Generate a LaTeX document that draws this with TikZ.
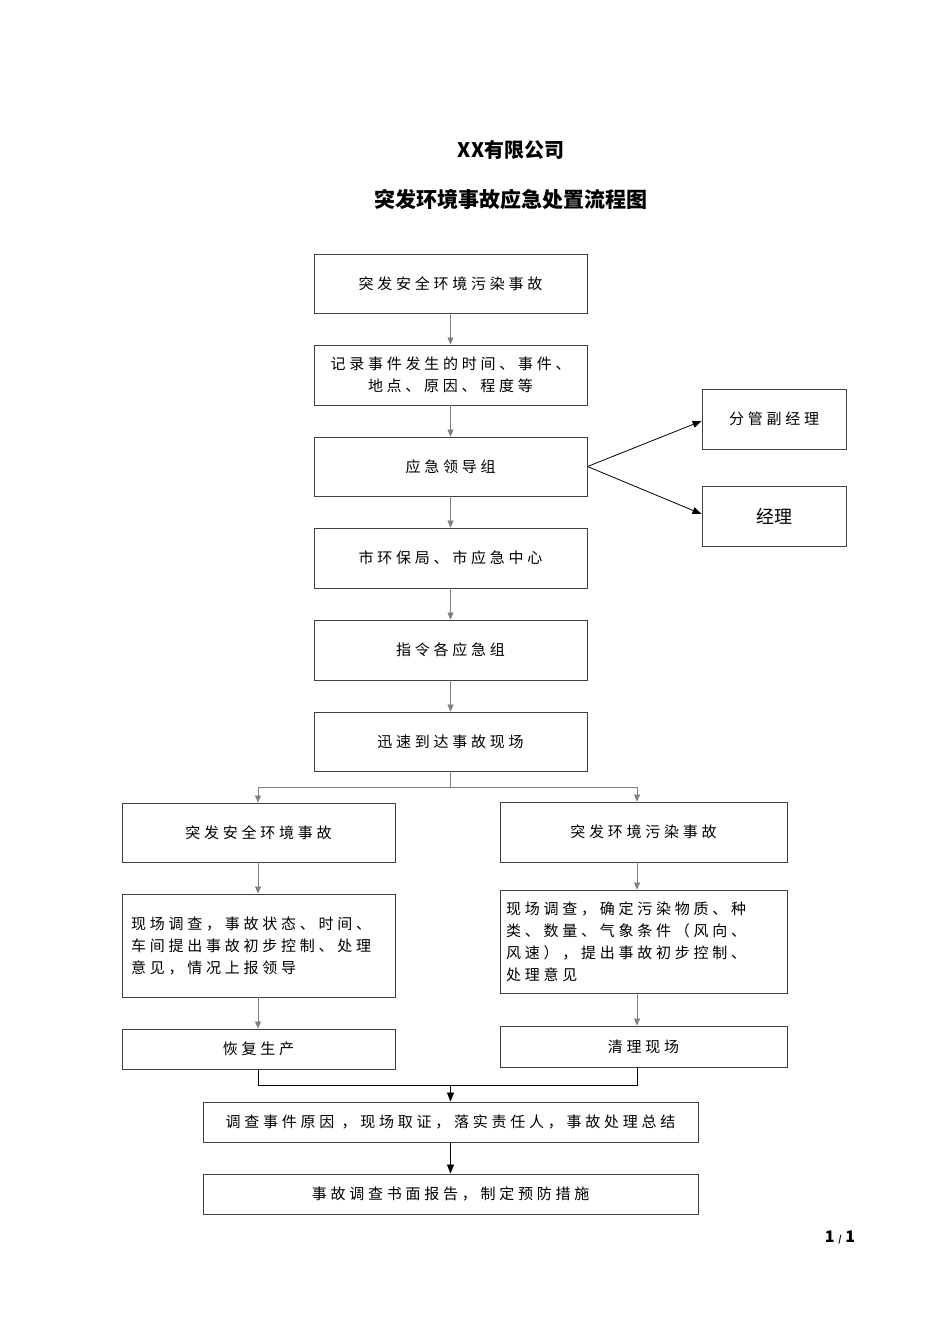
\documentclass[tikz,border=0pt]{standalone}
\usepackage{fontspec}
\setmainfont{Noto Sans CJK SC}
\newfontfamily\cjkb{Noto Sans CJK SC}[LetterSpace=25]
\newfontfamily\arialf{Liberation Sans}
\usetikzlibrary{arrows.meta}
\begin{document}
\begin{tikzpicture}[x=1pt,y=-1pt,
  box/.style={draw=black!75,line width=0.9pt,inner sep=0pt,font=\cjkb\fontsize{15}{22}\selectfont},
  ga/.style={draw=gray,line width=0.8pt,-{Triangle[length=7pt,width=6pt]}},
  ba/.style={draw=black,line width=0.8pt,-{Triangle[length=9pt,width=7pt]}},
  gl/.style={draw=gray,line width=0.8pt}]
\useasboundingbox (0,0) rectangle (950,1344);
\fill[white] (0,0) rectangle (950,1344);
\newcommand{\bx}[6]{\node[box,minimum width=#3-#2,minimum height=#5-#4,align=center] (#1) at ({(#2+#3)/2},{(#4+#5)/2}) {#6};}
\node[font=\bfseries\fontsize{20}{24}\selectfont] (t1) at (511,150) {XX有限公司};
\node[font=\bfseries\fontsize{21}{24}\selectfont] (t2) at (511,199) {突发环境事故应急处置流程图};
\bx{b1}{314}{587}{254}{313}{突发安全环境污染事故}
\bx{b2}{314}{587}{345}{405}{记录事件发生的时间、事件、\\地点、原因、程度等}
\bx{b3}{314}{587}{437}{496}{应急领导组}
\bx{b4}{314}{587}{528}{588}{市环保局、市应急中心}
\bx{b5}{314}{587}{620}{680}{指令各应急组}
\bx{b6}{314}{587}{712}{771}{迅速到达事故现场}
\bx{r1}{702}{846}{389}{449}{分管副经理}
\node[box,font=\arialf\fontsize{18}{22}\selectfont\setmainfont{Noto Sans CJK SC}\selectfont,minimum width=144,minimum height=60] (r2) at (774,516) {经理};
\bx{L1}{122}{395}{803}{862}{突发安全环境事故}
\node[box,minimum width=273,minimum height=103,align=left,text width=255] (L2) at (258.5,945.5) {现场调查，事故状态、时间、\\车间提出事故初步控制、处理\\意见，情况上报领导};
\bx{L3}{122}{395}{1029}{1069}{恢复生产}
\bx{R1}{500}{787}{802}{862}{突发环境污染事故}
\node[box,minimum width=287,minimum height=103,align=left,text width=275] (R2) at (643.5,941.5) {现场调查，确定污染物质、种\\类、数量、气象条件（风向、\\风速），提出事故初步控制、\\处理意见};
\bx{R3}{500}{787}{1026}{1067}{清理现场}
\bx{B1}{203}{698}{1102}{1142}{调查事件原因 ，现场取证，落实责任人，事故处理总结}
\bx{B2}{203}{698}{1174}{1214}{事故调查书面报告，制定预防措施}
\draw[ga] (b1) -- (b2);
\draw[ga] (b2) -- (b3);
\draw[ga] (b3) -- (b4);
\draw[ga] (b4) -- (b5);
\draw[ga] (b5) -- (b6);
\draw[ba] (b3.east) -- (r1.west |- 0,421);
\draw[ba] (b3.east) -- (r2.west |- 0,514);
\coordinate (s1) at (258,787); \coordinate (s2) at (637,787);
\draw[gl] (b6.south) -- (450.5,787);
\draw[gl] (s1) -- (s2);
\draw[ga] (s1) -- (L1.north -| s1);
\draw[ga] (s2) -- (R1.north -| s2);
\draw[ga] (L1.south -| s1) -- (L2.north -| s1);
\draw[ga] (L2.south -| s1) -- (L3.north -| s1);
\draw[ga] (R1.south -| s2) -- (R2.north -| s2);
\draw[ga] (R2.south -| s2) -- (R3.north -| s2);
\coordinate (m1) at (258,1085); \coordinate (m2) at (637,1085); \coordinate (m3) at (450.5,1085);
\draw[line width=0.8pt] (L3.south -| m1) -- (m1) -- (m2) -- (R3.south -| m2);
\draw[ba] (m3) -- (B1.north);
\draw[ba] (B1) -- (B2);
\node[font=\bfseries\fontsize{16}{18}\selectfont] (pg) at (840,1237) {1 {\fontsize{9}{10}\selectfont /} 1};
\end{tikzpicture}
\end{document}
